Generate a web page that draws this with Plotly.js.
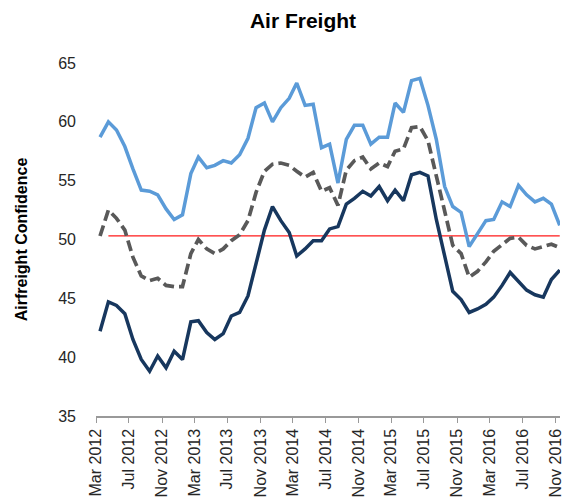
<!DOCTYPE html>
<html>
<head>
<meta charset="utf-8">
<script src="https://cdn.plot.ly/plotly-3.0.1.min.js"></script>
<style>html,body{margin:0;padding:0;background:#fff;}#chart{width:571px;height:503px;}</style>
</head>
<body>
<div id="chart"></div>
<script>
// Months (data points plotted mid-month)
const months = [
  "2012-03","2012-04","2012-05","2012-06","2012-07","2012-08","2012-09","2012-10","2012-11","2012-12",
  "2013-01","2013-02","2013-03","2013-04","2013-05","2013-06","2013-07","2013-08","2013-09","2013-10","2013-11","2013-12",
  "2014-01","2014-02","2014-03","2014-04","2014-05","2014-06","2014-07","2014-08","2014-09","2014-10","2014-11","2014-12",
  "2015-01","2015-02","2015-03","2015-04","2015-05","2015-06","2015-07","2015-08","2015-09","2015-10","2015-11","2015-12",
  "2016-01","2016-02","2016-03","2016-04","2016-05","2016-06","2016-07","2016-08","2016-09","2016-10","2016-11"
];

const upper = [
  58.7,60.0,59.3,57.9,56.0,54.2,54.1,53.8,52.6,51.7,
  52.1,55.6,57.0,56.1,56.3,56.7,56.5,57.2,58.6,61.2,61.6,60.0,
  61.2,62.0,63.3,61.4,61.5,57.8,58.1,54.8,58.5,59.7,59.7,58.1,
  58.7,58.7,61.6,60.8,63.5,63.7,61.4,58.5,54.5,52.8,52.3,49.4,
  50.5,51.6,51.7,53.2,52.8,54.6,53.8,53.2,53.5,53.0,51.2
];

const average = [
  50.3,52.5,51.8,50.8,48.5,46.9,46.5,46.7,46.1,46.0,
  46.0,48.8,50.0,49.2,48.8,49.2,49.9,50.4,51.6,54.0,55.8,56.4,
  56.5,56.3,55.8,55.3,55.7,54.1,54.4,52.9,55.9,56.7,57.0,56.0,
  56.5,56.2,57.5,57.7,59.5,59.6,58.4,55.3,52.3,49.5,48.8,46.8,
  47.3,48.1,49.0,49.6,50.1,50.2,49.5,49.2,49.4,49.6,49.3
];

const lower = [
  42.2,44.7,44.4,43.7,41.5,39.8,38.8,40.1,39.1,40.5,
  39.8,43.0,43.1,42.1,41.5,42.0,43.5,43.8,45.2,48.1,50.8,52.8,
  51.6,50.6,48.6,49.2,49.9,49.9,50.9,51.1,53.0,53.5,54.1,53.7,
  54.5,53.3,54.2,53.3,55.5,55.7,55.4,51.7,48.6,45.6,44.9,43.8,
  44.1,44.5,45.1,46.1,47.2,46.4,45.7,45.3,45.1,46.6,47.4
];

const threshold = 50.3;
const thresholdMonths = ["2012-04", "2016-11"];

const tickMonths = ["2012-03","2012-07","2012-11","2013-03","2013-07","2013-11","2014-03","2014-07","2014-11","2015-03","2015-07","2015-11","2016-03","2016-07","2016-11"];
const tickLabels = ["Mar 2012","Jul 2012","Nov 2012","Mar 2013","Jul 2013","Nov 2013","Mar 2014","Jul 2014","Nov 2014","Mar 2015","Jul 2015","Nov 2015","Mar 2016","Jul 2016","Nov 2016"];

const xs = months.map(m => m + "-16");
const font = "Arial, 'Liberation Sans', sans-serif";

const traces = [
  {x: thresholdMonths.map(m => m + "-16"), y: thresholdMonths.map(() => threshold), mode: "lines",
   line: {color: "#FF1A1A", width: 1.3}, name: "Threshold", hoverinfo: "skip"},
  {x: xs, y: lower, mode: "lines", line: {color: "#17375E", width: 3.5}, name: "Lower"},
  {x: xs, y: average, mode: "lines", line: {color: "#595959", width: 3.7, dash: "11px,5px"}, name: "Average"},
  {x: xs, y: upper, mode: "lines", line: {color: "#5B9BD8", width: 3.5}, name: "Upper"}
];

const layout = {
  width: 571, height: 503,
  margin: {l: 96, r: 11, t: 63, b: 87},
  paper_bgcolor: "#fff", plot_bgcolor: "#fff",
  showlegend: false,
  font: {family: font, color: "#262626"},
  title: {text: "<b>Air Freight</b>", font: {size: 21, family: font, color: "#000"},
          x: 303/571, xref: "container", xanchor: "center", y: 1 - 21/503, yref: "container", yanchor: "middle"},
  xaxis: {
    type: "date", range: ["2012-03-01", "2016-11-17"],
    tickvals: tickMonths.map(m => m + "-01"), ticktext: tickLabels, tickangle: -90,
    ticks: "outside", ticklen: 5, tickcolor: "#999", tickwidth: 1,
    showline: true, linecolor: "#999", linewidth: 1.5,
    showgrid: false, zeroline: false,
    tickfont: {size: 16, family: font, color: "#262626"}
  },
  yaxis: {
    range: [35, 65], tickvals: [35,40,45,50,55,60,65],
    showgrid: false, zeroline: false, showline: false, ticks: "",
    ticklabelstandoff: 19,
    tickfont: {size: 16, family: font, color: "#262626"},
    title: {text: "<b>Airfreight Confidence</b>", font: {size: 16, family: font, color: "#000"}, standoff: 26}
  }
};

Plotly.newPlot("chart", traces, layout, {displayModeBar: false, staticPlot: true});
</script>
</body>
</html>
